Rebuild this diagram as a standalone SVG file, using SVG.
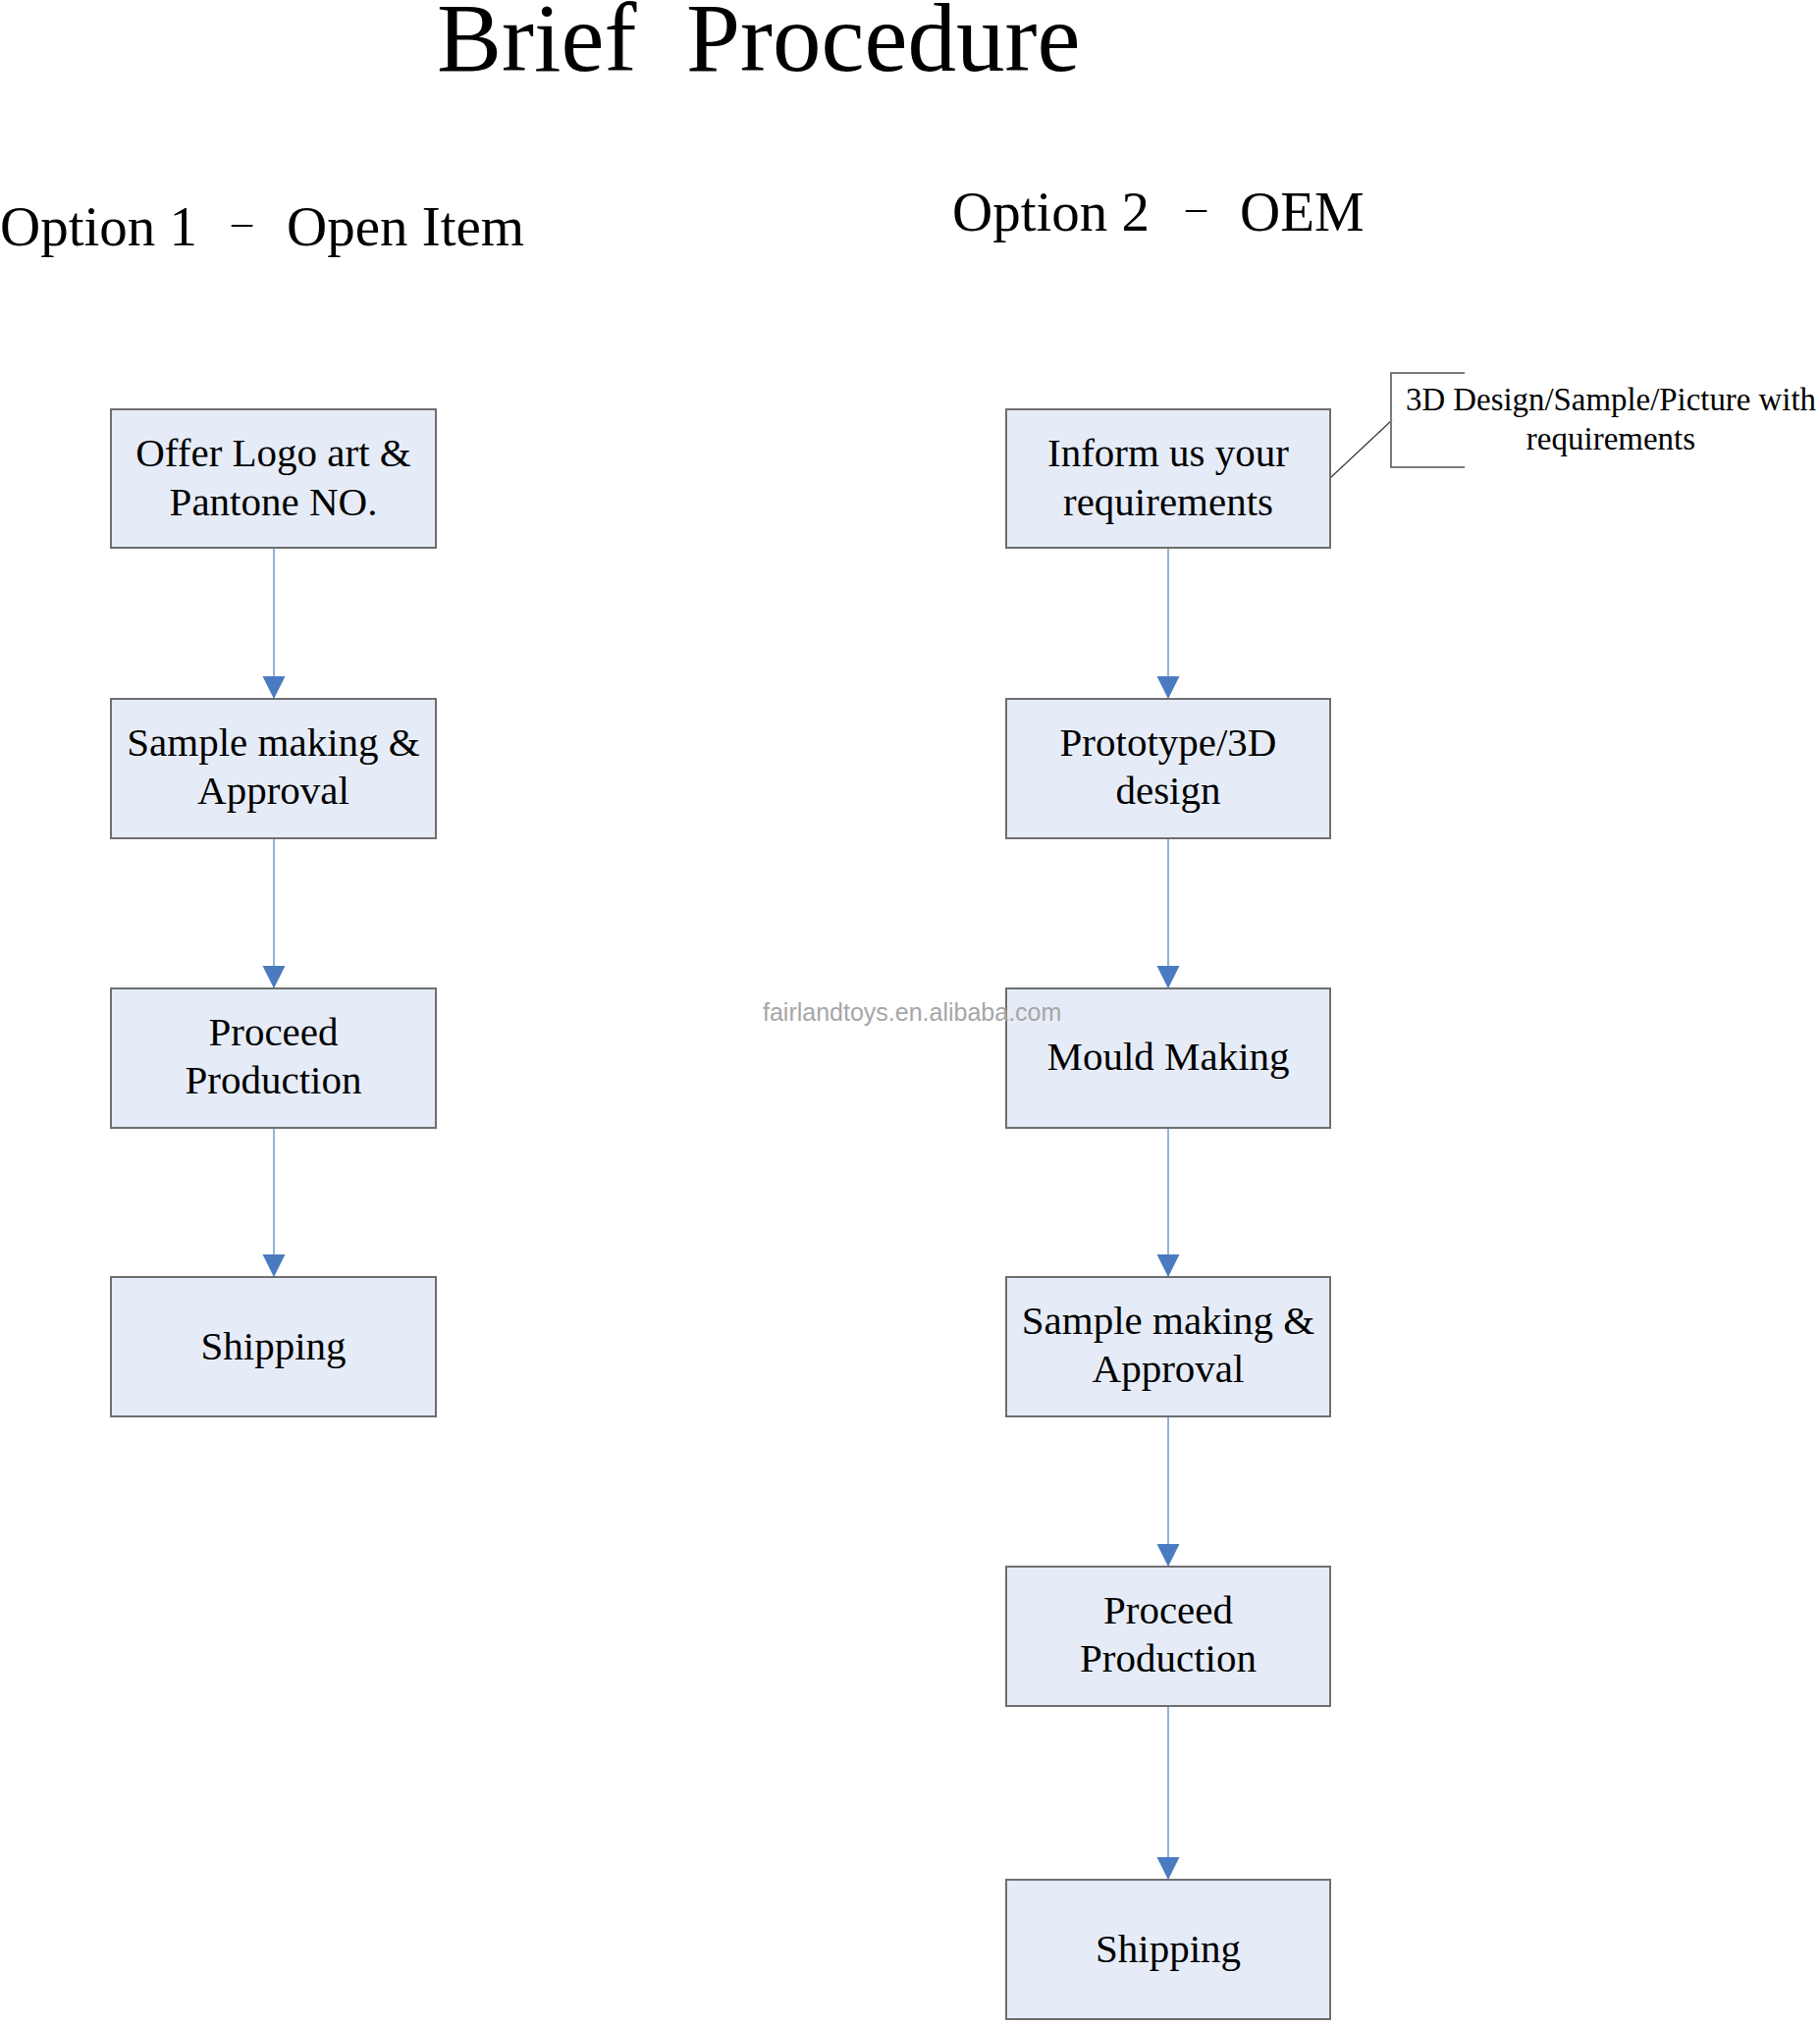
<svg xmlns="http://www.w3.org/2000/svg" width="1854" height="2063" viewBox="0 0 1854 2063">
<style>
.box{fill:#e6ecf7;stroke:#6e6e6e;stroke-width:2}
.lbl{font-family:"Liberation Serif","Times New Roman",serif;font-size:41px;fill:#000;text-anchor:middle}
.head{font-family:"Liberation Serif","Times New Roman",serif;font-size:57px;fill:#000}
.conn{stroke:#95b3d7;stroke-width:2;fill:none;marker-end:url(#arr)}
</style>
<defs>
<marker id="arr" markerUnits="userSpaceOnUse" markerWidth="24" markerHeight="24" viewBox="0 0 24 24" refX="23" refY="12" orient="auto">
<path d="M0 0.5 L23 12 L0 23.5 Z" fill="#4a7bc0"/>
</marker>
</defs>
<rect width="1854" height="2063" fill="#ffffff"/>
<text y="72" font-family="Liberation Serif, Times New Roman, serif" font-size="99"><tspan x="445">Brief</tspan><tspan x="699">Procedure</tspan></text>
<text class="head" y="250"><tspan x="0">Option 1</tspan><tspan x="236" y="240" font-size="42">–</tspan><tspan x="292" y="250">Open Item</tspan></text>
<text class="head" y="235"><tspan x="970">Option 2</tspan><tspan x="1208" y="225" font-size="42">–</tspan><tspan x="1263" y="235">OEM</tspan></text>
<g id="connectors">
<line class="conn" x1="279" y1="558" x2="279" y2="712"/>
<line class="conn" x1="279" y1="854" x2="279" y2="1007"/>
<line class="conn" x1="279" y1="1149" x2="279" y2="1301"/>
<line class="conn" x1="1190" y1="558" x2="1190" y2="712"/>
<line class="conn" x1="1190" y1="854" x2="1190" y2="1007"/>
<line class="conn" x1="1190" y1="1149" x2="1190" y2="1301"/>
<line class="conn" x1="1190" y1="1443" x2="1190" y2="1596"/>
<line class="conn" x1="1190" y1="1738" x2="1190" y2="1915"/>
<line x1="1355" y1="487" x2="1418" y2="428" stroke="#3c3c3c" stroke-width="1.3"/>
</g>
<g id="n1"><rect class="box" x="113" y="417" width="331" height="141"/><text class="lbl" x="278.5" y="475">Offer Logo art &amp;</text><text class="lbl" x="278.5" y="525">Pantone NO.</text></g>
<g id="n2"><rect class="box" x="113" y="712" width="331" height="142"/><text class="lbl" x="278.5" y="770">Sample making &amp;</text><text class="lbl" x="278.5" y="819">Approval</text></g>
<g id="n3"><rect class="box" x="113" y="1007" width="331" height="142"/><text class="lbl" x="278.5" y="1065">Proceed</text><text class="lbl" x="278.5" y="1114">Production</text></g>
<g id="n4"><rect class="box" x="113" y="1301" width="331" height="142"/><text class="lbl" x="278.5" y="1385">Shipping</text></g>
<g id="m1"><rect class="box" x="1025" y="417" width="330" height="141"/><text class="lbl" x="1190" y="475">Inform us your</text><text class="lbl" x="1190" y="525">requirements</text></g>
<g id="m2"><rect class="box" x="1025" y="712" width="330" height="142"/><text class="lbl" x="1190" y="770">Prototype/3D</text><text class="lbl" x="1190" y="819">design</text></g>
<g id="m3"><rect class="box" x="1025" y="1007" width="330" height="142"/><text class="lbl" x="1190" y="1090">Mould Making</text></g>
<g id="m4"><rect class="box" x="1025" y="1301" width="330" height="142"/><text class="lbl" x="1190" y="1359">Sample making &amp;</text><text class="lbl" x="1190" y="1408">Approval</text></g>
<g id="m5"><rect class="box" x="1025" y="1596" width="330" height="142"/><text class="lbl" x="1190" y="1654">Proceed</text><text class="lbl" x="1190" y="1703">Production</text></g>
<g id="m6"><rect class="box" x="1025" y="1915" width="330" height="142"/><text class="lbl" x="1190" y="1999">Shipping</text></g>
<g id="callout">
<path d="M1492 380 H1417 V476 H1492" fill="none" stroke="#7a7a7a" stroke-width="2"/>
<text x="1432" y="418" font-family="Liberation Serif, Times New Roman, serif" font-size="33" textLength="418" lengthAdjust="spacingAndGlyphs">3D Design/Sample/Picture with</text>
<text x="1641" y="458" font-family="Liberation Serif, Times New Roman, serif" font-size="33" text-anchor="middle">requirements</text>
</g>
<text x="777" y="1040" font-family="Liberation Sans, Arial, sans-serif" font-size="25" fill="#a6a6a6">fairlandtoys.en.alibaba.com</text>
</svg>
